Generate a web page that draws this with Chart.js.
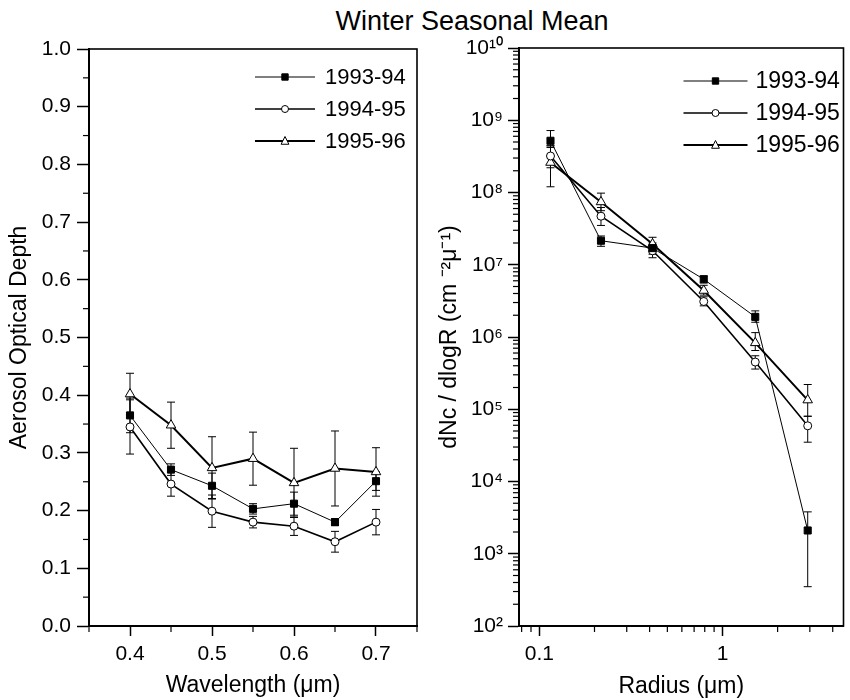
<!DOCTYPE html>
<html><head><meta charset="utf-8">
<script src="https://cdn.jsdelivr.net/npm/chart.js@4.4.1/dist/chart.umd.min.js"></script>
<style>
html,body{margin:0;padding:0;background:#fff;}
#wrap{position:relative;width:850px;height:700px;overflow:hidden;background:#fff;}
#title{position:absolute;left:272px;width:400px;top:5px;text-align:center;font-family:"Liberation Sans",Arial,Helvetica,sans-serif;font-size:27px;color:#000;line-height:32px;}
#c1{position:absolute;left:0;top:0;width:430px;height:700px;}
#c2{position:absolute;left:430px;top:0;width:420px;height:700px;}
</style></head><body>
<div id="wrap">
<div id="title">Winter Seasonal Mean</div>
<canvas id="c1" width="430" height="700"></canvas>
<canvas id="c2" width="420" height="700"></canvas>
</div>
<script>
// ---------- Left panel data ----------
const seriesLabels = ['1993-94', '1994-95', '1995-96'];
const wavelength = [0.4, 0.45, 0.5, 0.55, 0.6, 0.65, 0.7];
const aod9394 = [0.365, 0.271, 0.243, 0.203, 0.212, 0.180, 0.251];
const aod9495 = [0.345, 0.246, 0.199, 0.180, 0.173, 0.146, 0.180];
const aod9596 = [0.402, 0.348, 0.274, 0.290, 0.248, 0.273, 0.267];
const aodErr9394 = [0.030, 0.010, 0.022, 0.009, 0.020, 0.006, 0.016];
const aodErr9495 = [0.047, 0.021, 0.028, 0.010, 0.016, 0.018, 0.022];
const aodErr9596 = [0.036, 0.040, 0.054, 0.046, 0.060, 0.065, 0.042];

// ---------- Right panel data ----------
const radius = [0.115, 0.217, 0.415, 0.79, 1.51, 2.92];
const n9394 = [5.2e8, 2.15e7, 1.7e7, 6.3e6, 1.9e6, 2.1e3];
const n9495 = [3.2e8, 4.7e7, 1.56e7, 3.1e6, 4.5e5, 5.9e4];
const n9596 = [2.6e8, 7.4e7, 1.94e7, 4.4e6, 8.3e5, 1.34e5];
const nLow9394 = [4.2e8, 1.8e7, 1.4e7, 5.6e6, 1.6e6, 3.5e2];
const nHigh9394 = [7.2e8, 2.5e7, 2.0e7, 7.0e6, 2.3e6, 3.8e3];
const nLow9495 = [2.2e8, 3.5e7, 1.25e7, 2.7e6, 3.6e5, 3.5e4];
const nHigh9495 = [4.4e8, 6.2e7, 1.9e7, 3.6e6, 5.5e5, 8.0e4];
const nLow9596 = [1.2e8, 5.6e7, 1.5e7, 3.8e6, 6.5e5, 8.0e4];
const nHigh9596 = [4.5e8, 9.8e7, 2.4e7, 5.2e6, 1.15e6, 2.2e5];

// tick value lists for the log axes
const yDecadesR = [2, 3, 4, 5, 6, 7, 8, 9];
const xDecadesR = [-2, -1, 0];

const FONT = "'Liberation Sans', Arial, Helvetica, sans-serif";
Chart.defaults.font.family = FONT;
Chart.defaults.color = '#000';

function pts(xs, ys) { return xs.map((x, i) => ({x: x, y: ys[i]})); }
function isStep(v, step) { return Math.abs(v / step - Math.round(v / step)) < 1e-6; }
function isPow10(v) { const l = Math.log10(v); return Math.abs(l - Math.round(l)) < 1e-6; }
const SUP = {'0':'⁰','1':'¹','2':'²','3':'³','4':'⁴','5':'⁵','6':'⁶','7':'⁷','8':'⁸','9':'⁹','-':'⁻'};
function sup(n) { return String(n).split('').map(c => SUP[c]).join(''); }
function majorTest(kind, v) { return kind === 'log' ? isPow10(v) : isStep(v, 0.1); }

function logTicks(decades, lo, hi) {
  const out = [];
  decades.forEach(e => { for (let m = 1; m <= 9; m++) { const v = Number((m * Math.pow(10, e)).toPrecision(6)); if (v >= lo * 0.999 && v <= hi * 1.001) out.push(v); } });
  const top = Math.pow(10, decades[decades.length - 1] + 1);
  if (top <= hi * 1.001) out.push(top);
  return out;
}

function drawMarker(ctx, style, x, y, r) {
  ctx.beginPath();
  if (style === 'rect') {
    const s = r * Math.SQRT1_2;
    ctx.rect(x - s, y - s, 2 * s, 2 * s);
  } else if (style === 'circle') {
    ctx.arc(x, y, r, 0, Math.PI * 2);
  } else if (style === 'triangle') {
    ctx.moveTo(x, y - r);
    ctx.lineTo(x + r * 0.866, y + r * 0.5 + 1);
    ctx.lineTo(x - r * 0.866, y + r * 0.5 + 1);
    ctx.closePath();
  }
  ctx.fill();
  ctx.stroke();
}

const framePlugin = {
  id: 'frame',
  afterDraw(chart) {
    const a = chart.chartArea, ctx = chart.ctx;
    ctx.save();
    ctx.strokeStyle = '#000';
    ctx.lineWidth = 1.6;
    ctx.strokeRect(a.left, a.top, a.right - a.left, a.bottom - a.top);
    ctx.restore();
  }
};

const errorBarsPlugin = {
  id: 'errorBars',
  beforeDatasetsDraw(chart) {
    const ctx = chart.ctx, xs = chart.scales.x, ys = chart.scales.y;
    ctx.save();
    ctx.strokeStyle = '#000';
    ctx.lineWidth = 1;
    chart.data.datasets.forEach(ds => {
      if (!ds.errLow) return;
      ds.data.forEach((p, j) => {
        const x = xs.getPixelForValue(p.x);
        const yl = ys.getPixelForValue(ds.errLow[j]);
        const yh = ys.getPixelForValue(ds.errHigh[j]);
        ctx.beginPath();
        ctx.moveTo(x, yl); ctx.lineTo(x, yh);
        ctx.moveTo(x - 4, yl); ctx.lineTo(x + 4, yl);
        ctx.moveTo(x - 4, yh); ctx.lineTo(x + 4, yh);
        ctx.stroke();
      });
    });
    ctx.restore();
  }
};

const minorTicksPlugin = {
  id: 'minorTicks',
  afterDraw(chart, args, opts) {
    const ctx = chart.ctx, a = chart.chartArea, len = opts.len || 6;
    ctx.save();
    ctx.strokeStyle = '#000';
    ctx.lineWidth = 1.2;
    ['x', 'y'].forEach(id => {
      const sc = chart.scales[id], kind = opts[id];
      sc.ticks.forEach(t => {
        if (majorTest(kind, t.value)) return;
        const p = sc.getPixelForValue(t.value);
        ctx.beginPath();
        if (id === 'x') { ctx.moveTo(p, a.bottom); ctx.lineTo(p, a.bottom + len); }
        else { ctx.moveTo(a.left, p); ctx.lineTo(a.left - len, p); }
        ctx.stroke();
      });
    });
    ctx.restore();
  }
};

const lineLegendPlugin = {
  id: 'lineLegend',
  afterDraw(chart, args, opts) {
    const ctx = chart.ctx, a = chart.chartArea;
    ctx.save();
    ctx.font = opts.fontSize + 'px ' + FONT;
    ctx.textBaseline = 'middle';
    ctx.textAlign = 'left';
    chart.data.datasets.forEach((ds, i) => {
      const y = a.top + opts.rowTop + i * opts.rowGap;
      const x0 = a.right - opts.lineFrom, x1 = a.right - opts.lineTo;
      ctx.strokeStyle = '#000';
      ctx.lineWidth = ds.borderWidth;
      ctx.beginPath(); ctx.moveTo(x0, y); ctx.lineTo(x1, y); ctx.stroke();
      ctx.lineWidth = 1;
      ctx.fillStyle = ds.pointBackgroundColor;
      drawMarker(ctx, ds.pointStyle, (x0 + x1) / 2, y, ds.legendRadius);
      ctx.fillStyle = '#000';
      ctx.fillText(ds.label, a.right - opts.textAt, y + 1);
    });
    ctx.restore();
  }
};

function makeDatasets(dataList, lows, highs) {
  const styles = [
    {pointStyle: 'rect', pointRadius: 5, legendRadius: 4.5, pointBackgroundColor: '#000', borderWidth: 1},
    {pointStyle: 'circle', pointRadius: 4, legendRadius: 3.5, pointBackgroundColor: '#fff', borderWidth: 1.6},
    {pointStyle: 'triangle', pointRadius: 5.5, legendRadius: 4.5, pointBackgroundColor: '#fff', borderWidth: 2}
  ];
  return dataList.map((d, i) => Object.assign({
    label: seriesLabels[i],
    data: d,
    errLow: lows[i],
    errHigh: highs[i],
    showLine: true,
    borderColor: '#000',
    pointBorderColor: '#000',
    pointBorderWidth: 1,
    pointHoverRadius: 5,
    fill: false,
    tension: 0
  }, styles[i]));
}

const tickFont = {size: 21};
const titleFont = {size: 23};

// ---------- Left chart ----------
const aodSets = [aod9394, aod9495, aod9596];
const aodErrs = [aodErr9394, aodErr9495, aodErr9596];
new Chart(document.getElementById('c1'), {
  type: 'scatter',
  data: {
    datasets: makeDatasets(
      aodSets.map(s => pts(wavelength, s)),
      aodSets.map((s, i) => s.map((v, j) => v - aodErrs[i][j])),
      aodSets.map((s, i) => s.map((v, j) => v + aodErrs[i][j]))
    )
  },
  options: {
    responsive: false, animation: false, devicePixelRatio: 1,
    layout: {padding: {top: 49, right: 13, left: 0, bottom: 0}},
    plugins: {
      legend: {display: false}, tooltip: {enabled: false},
      minorTicks: {len: 6, x: 'p1', y: 'p1'},
      lineLegend: {fontSize: 22, rowTop: 28, rowGap: 32, lineFrom: 162, lineTo: 102, textAt: 92}
    },
    scales: {
      x: {
        type: 'linear', min: 0.35, max: 0.75,
        ticks: {stepSize: 0.05, autoSkip: false, maxRotation: 0, font: tickFont, padding: 6,
          callback: v => isStep(v, 0.1) ? v.toFixed(1) : ''},
        grid: {drawOnChartArea: false, tickLength: 10, tickWidth: 1.5,
          tickColor: c => (c.tick && isStep(c.tick.value, 0.1)) ? '#000' : 'rgba(0,0,0,0)'},
        border: {color: '#000', width: 2},
        title: {display: true, text: 'Wavelength (μm)', font: titleFont, padding: {top: 0, bottom: 1}},
        afterFit: s => { s.height = 74; }
      },
      y: {
        type: 'linear', min: 0, max: 1.0,
        ticks: {stepSize: 0.05, autoSkip: false, font: tickFont, padding: 6,
          callback: v => isStep(v, 0.1) ? v.toFixed(1) : ''},
        grid: {drawOnChartArea: false, tickLength: 12, tickWidth: 1.5,
          tickColor: c => (c.tick && isStep(c.tick.value, 0.1)) ? '#000' : 'rgba(0,0,0,0)'},
        border: {color: '#000', width: 2},
        title: {display: true, text: 'Aerosol Optical Depth', font: titleFont, padding: {top: 6, bottom: 0}},
        afterFit: s => { s.width = 89; }
      }
    }
  },
  plugins: [errorBarsPlugin, framePlugin, minorTicksPlugin, lineLegendPlugin]
});

// ---------- Right chart ----------
const xTicksR = logTicks(xDecadesR, 0.0774, 4.58);
const yTicksR = logTicks(yDecadesR, 1e2, 1e10);
new Chart(document.getElementById('c2'), {
  type: 'scatter',
  data: {
    datasets: makeDatasets(
      [n9394, n9495, n9596].map(s => pts(radius, s)),
      [nLow9394, nLow9495, nLow9596],
      [nHigh9394, nHigh9495, nHigh9596]
    )
  },
  options: {
    responsive: false, animation: false, devicePixelRatio: 1,
    layout: {padding: {top: 48, right: 2, left: 0, bottom: 0}},
    plugins: {
      legend: {display: false}, tooltip: {enabled: false},
      minorTicks: {len: 6, x: 'log', y: 'log'},
      lineLegend: {fontSize: 23, rowTop: 33, rowGap: 32, lineFrom: 160, lineTo: 96, textAt: 88}
    },
    scales: {
      x: {
        type: 'logarithmic', min: 0.0774, max: 4.58,
        afterBuildTicks: s => { s.ticks = xTicksR.map(v => ({value: v})); },
        ticks: {autoSkip: false, maxRotation: 0, font: tickFont, padding: 6,
          callback: v => isPow10(v) ? String(Number(v.toPrecision(1))) : ''},
        grid: {drawOnChartArea: false, tickLength: 10, tickWidth: 1.5,
          tickColor: c => (c.tick && isPow10(c.tick.value)) ? '#000' : 'rgba(0,0,0,0)'},
        border: {color: '#000', width: 2},
        title: {display: true, text: 'Radius (μm)', font: titleFont, padding: {top: 0, bottom: 0}},
        afterFit: s => { s.height = 74; }
      },
      y: {
        type: 'logarithmic', min: 1e2, max: 1e10,
        afterBuildTicks: s => { s.ticks = yTicksR.map(v => ({value: v})); },
        ticks: {autoSkip: false, font: tickFont, padding: 5,
          callback: v => isPow10(v) ? '10' + sup(Math.round(Math.log10(v))) : ''},
        grid: {drawOnChartArea: false, tickLength: 11, tickWidth: 1.5,
          tickColor: c => (c.tick && isPow10(c.tick.value)) ? '#000' : 'rgba(0,0,0,0)'},
        border: {color: '#000', width: 2},
        title: {display: true, text: 'dNc / dlogR (cm ⁻²μ⁻¹)', font: titleFont, padding: {top: 6, bottom: 0}},
        afterFit: s => { s.width = 89; }
      }
    }
  },
  plugins: [errorBarsPlugin, framePlugin, minorTicksPlugin, lineLegendPlugin]
});
</script>
</body></html>
